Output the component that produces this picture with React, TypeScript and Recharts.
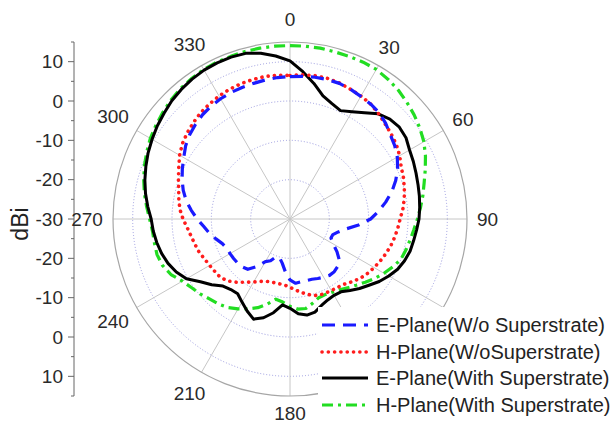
import React from 'react';
import {
  RadarChart,
  Radar,
  PolarGrid,
  PolarAngleAxis,
  PolarRadiusAxis,
  LineChart,
  YAxis,
  Label,
} from 'recharts';

// ---- data (compass angle in degrees, clockwise from top) ----
const angles = [
  0, 5, 10, 15, 20, 25, 30, 35, 40, 45, 50, 55, 60, 65, 70, 75, 80, 85,
  90, 95, 100, 105, 110, 115, 120, 125, 130, 135, 140, 145, 150, 155, 160, 165, 170, 175,
  180, 185, 190, 195, 200, 205, 210, 215, 220, 225, 230, 235, 240, 245, 250, 255, 260, 265,
  270, 275, 280, 285, 290, 295, 300, 305, 310, 315, 320, 325, 330, 335, 340, 345, 350, 355,
];

const eWo = [
  6.2, 6.4, 6.6, 6.7, 6.7, 6.4, 6.0, 5.7, 5.3, 4.4, 3.3, 2.5, 1.5, 0.2, -1.4, -3.2, -5.3, -7.4,
  -9.5, -12.5, -15.5, -17.3, -18.4, -18.5, -17.3, -15.4, -13.6, -12.9, -12.5, -12.5, -12.9, -13.3, -13.7, -13.8, -13.8, -13.6,
  -14.5, -16.5, -18.6, -19.8, -19.8, -18.3, -17.5, -15.2, -13.3, -12.8, -12.6, -12.5, -12.4, -12.3, -11.7, -10.5, -9.2, -8.0,
  -6.4, -4.8, -3.2, -1.9, -0.8, 0.2, 1.2, 2.4, 3.3, 4.0, 4.6, 5.0, 5.3, 5.5, 5.6, 5.7, 5.9, 6.1,
];

const hWo = [
  6.5, 6.8, 7.0, 7.0, 6.8, 6.4, 6.1, 5.7, 5.0, 4.2, 3.6, 3.0, 2.2, 1.2, 0.7, 0.1, -0.5, -1.2,
  -2.0, -2.5, -3.0, -3.5, -4.1, -4.7, -5.3, -5.9, -6.6, -7.5, -8.4, -8.8, -9.0, -9.1, -9.3, -10.0, -10.9, -11.8,
  -12.6, -13.2, -13.3, -13.3, -13.1, -12.5, -11.5, -10.4, -9.0, -7.7, -6.9, -6.7, -6.4, -6.0, -5.4, -5.0, -4.5, -3.8,
  -2.8, -1.9, -1.3, -0.7, 0.2, 1.2, 2.4, 3.4, 4.1, 4.7, 5.3, 5.7, 6.1, 6.4, 6.6, 6.7, 6.8, 6.7,
];

const eWith = [
  10.2, 7.6, 5.0, 2.4, 1.2, 0.4, 1.5, 3.0, 4.9, 5.9, 6.3, 6.0, 5.1, 4.6, 4.1, 3.7, 3.4, 3.1,
  2.8, 2.3, 1.9, 1.6, 1.0, 0.2, -1.0, -2.3, -3.8, -5.0, -6.3, -7.4, -7.6, -7.3, -6.6, -5.5, -5.2, -5.8,
  -7.3, -8.1, -5.8, -4.0, -2.9, -4.2, -5.6, -6.8, -6.6, -5.9, -4.0, -2.2, 0.4, 1.9, 3.0, 3.8, 4.4, 4.9,
  5.3, 6.3, 7.3, 8.2, 9.0, 9.8, 10.5, 11.2, 11.8, 12.5, 13.0, 13.4, 13.7, 13.8, 13.8, 13.6, 12.8, 11.6,
];

const hWith = [
  14.1, 14.1, 14.1, 14.0, 14.0, 14.0, 13.9, 13.4, 12.8, 12.0, 11.2, 10.3, 9.3, 8.0, 6.6, 5.3, 4.3, 3.3,
  2.4, 1.6, 1.0, 0.5, 0.0, -1.2, -2.4, -3.7, -5.0, -6.2, -7.2, -8.0, -8.5, -8.8, -8.7, -7.8, -6.9, -7.0,
  -7.8, -8.8, -9.3, -7.6, -6.0, -4.8, -3.6, -2.5, -1.8, -1.2, -0.3, 0.5, 1.6, 3.4, 4.5, 5.0, 5.0, 5.1,
  5.7, 6.6, 7.6, 8.5, 9.4, 10.2, 11.0, 11.6, 12.2, 12.8, 13.3, 13.6, 13.9, 14.0, 14.0, 14.1, 14.1, 14.1,
];

const seriesNames = [
  'E-Plane(W/o Superstrate)',
  'H-Plane(W/oSuperstrate)',
  'E-Plane(With Superstrate)',
  'H-Plane(With Superstrate)',
];

// labels visible in the reference (120 and 150 are covered by the legend box)
const angleLabels = [0, 30, 60, 90, 180, 210, 240, 270, 300, 330];
const spokeAngles = [0, 30, 60, 90, 120, 150, 180, 210, 240, 270, 300, 330];
const radiusDomain = [-30, 15];
const majorRings = [-20, -10, 0, 10];
const minorRings = [-25, -15, -5, 5];
const dbiAxisTicks = [45, 40, 35, 30, 25, 20, 15, 10, 5, 0, -5, -10, -15, -20, -25, -30, -35, -40, -45];

const data = angles.map((a, i) => ({
  angle: a,
  eWo: eWo[i],
  hWo: hWo[i],
  eWith: eWith[i],
  hWith: hWith[i],
}));

// ---- layout / style ----
const W = 615;
const H = 425;
const CX = 290;
const CY = 219;
const R = 177;
const FONT = '"Liberation Sans", Arial, Helvetica, sans-serif';

const series = [
  { key: 'eWo', name: seriesNames[0], color: '#1a1aff', dash: '13 8', cap: 'butt' as const, width: 3.2 },
  { key: 'hWo', name: seriesNames[1], color: '#ff1c1c', dash: '0.1 6.2', cap: 'round' as const, width: 3.6 },
  { key: 'eWith', name: seriesNames[2], color: '#000000', dash: undefined, cap: 'butt' as const, width: 3 },
  { key: 'hWith', name: seriesNames[3], color: '#22dd22', dash: '11 5 3 5', cap: 'butt' as const, width: 3.2 },
];
const drawOrder = ['hWith', 'eWith', 'hWo', 'eWo'];

const AngleTick = (props: any) => {
  const { payload } = props;
  const deg = Number(payload?.value);
  if (!angleLabels.includes(deg)) return <g />;
  const a = (Number(payload.coordinate) * Math.PI) / 180;
  const label = String(deg);
  const w = label.length * 10.6;
  const h = 14;
  const gap = Math.sin(a) > 0.99 ? 16 : 10;
  const rr = R + gap + Math.abs(Math.cos(a)) * (w / 2) + Math.abs(Math.sin(a)) * (h / 2);
  const x = CX + rr * Math.cos(a);
  const y = CY - rr * Math.sin(a);
  return (
    <text x={x} y={y} textAnchor="middle" dominantBaseline="central" fontSize={19} fill="#2a2a2a" fontFamily={FONT}>
      {label}
    </text>
  );
};

const DbiTick = (props: any) => {
  const { x, y, payload } = props;
  const v = Number(payload.value);
  const major = v % 10 === 0 && Math.abs(v) <= 40;
  return (
    <g>
      <line x1={x} x2={x - (major ? 6 : 3)} y1={y} y2={y} stroke="#666" strokeWidth={1} />
      {major && (
        <text x={x - 11} y={y} textAnchor="end" dominantBaseline="central" fontSize={19} fill="#2a2a2a" fontFamily={FONT}>
          {Math.abs(v) - 30}
        </text>
      )}
    </g>
  );
};

const gridAngles = spokeAngles.map((a) => 90 - a);

export default function App() {
  return (
    <div
      style={{
        position: 'absolute',
        left: 0,
        top: 0,
        width: W,
        height: H,
        background: '#ffffff',
        fontFamily: FONT,
        overflow: 'hidden',
      }}
    >
      <div style={{ position: 'absolute', left: 0, top: 0 }}>
        <LineChart width={W} height={H} data={[{ v: 0 }]} margin={{ top: CY - R, right: 0, bottom: H - CY - R, left: 0 }}>
          <YAxis
            type="number"
            domain={[-45, 45]}
            ticks={dbiAxisTicks}
            interval={0}
            width={74}
            tickSize={0}
            tickMargin={0}
            tickLine={false}
            axisLine={{ stroke: '#666', strokeWidth: 1 }}
            tick={<DbiTick />}
            allowDataOverflow
          >
            <Label
              content={() => (
                <text
                  x={20}
                  y={224}
                  transform="rotate(-90 20 224)"
                  textAnchor="middle"
                  dominantBaseline="central"
                  fontSize={23}
                  fill="#222"
                  fontFamily={FONT}
                >
                  dBi
                </text>
              )}
            />
          </YAxis>
        </LineChart>
      </div>
      <div style={{ position: 'absolute', left: 0, top: 0 }}>
        <RadarChart
          width={W}
          height={H}
          data={data}
          cx={CX}
          cy={CY}
          innerRadius={0}
          outerRadius={R}
          startAngle={90}
          endAngle={-270}
          margin={{ top: 0, right: 0, bottom: 0, left: 0 }}
        >
          <PolarGrid gridType="circle" radialLines={false} radiusAxisId="minor" stroke="#d9ddd9" strokeWidth={1} />
          <PolarGrid
            gridType="circle"
            radialLines={false}
            radiusAxisId="major"
            stroke="#9a9ae0"
            strokeWidth={1}
            strokeDasharray="1 2"
          />
          <PolarGrid gridType="circle" polarRadius={[]} polarAngles={gridAngles} radiusAxisId="major" stroke="#c6c6c6" strokeWidth={1} />
          <PolarAngleAxis
            dataKey="angle"
            tick={<AngleTick />}
            tickLine={false}
            axisLineType="circle"
            axisLine={{ stroke: '#a6a6a6', strokeWidth: 1.2 }}
          />
          <PolarRadiusAxis radiusAxisId="major" type="number" domain={radiusDomain} ticks={majorRings} tick={false} axisLine={false} />
          <PolarRadiusAxis radiusAxisId="minor" type="number" domain={radiusDomain} ticks={minorRings} tick={false} axisLine={false} />
          {drawOrder.map((k) => {
            const s = series.find((x) => x.key === k)!;
            return (
              <Radar
                key={s.key}
                radiusAxisId="major"
                dataKey={s.key}
                name={s.name}
                stroke={s.color}
                strokeWidth={s.width}
                strokeDasharray={s.dash}
                strokeLinecap={s.cap}
                strokeLinejoin="round"
                fill="none"
                fillOpacity={0}
                dot={false}
                isAnimationActive={false}
              />
            );
          })}
        </RadarChart>
      </div>
      <div
        style={{
          position: 'absolute',
          left: 318,
          top: 307,
          width: W - 318,
          height: H - 307,
          background: '#ffffff',
          paddingTop: 4.5,
          boxSizing: 'border-box',
        }}
      >
        {series.map((s) => (
          <div key={s.key} style={{ display: 'flex', alignItems: 'center', height: 26.8 }}>
            <svg width={52} height={10} style={{ display: 'block' }}>
              <line
                x1={4}
                y1={5}
                x2={50}
                y2={5}
                stroke={s.color}
                strokeWidth={s.width}
                strokeDasharray={s.dash}
                strokeLinecap={s.cap}
              />
            </svg>
            <span style={{ marginLeft: 6, fontSize: 20, color: '#222', whiteSpace: 'nowrap', lineHeight: '20px' }}>
              {s.name}
            </span>
          </div>
        ))}
      </div>
    </div>
  );
}
